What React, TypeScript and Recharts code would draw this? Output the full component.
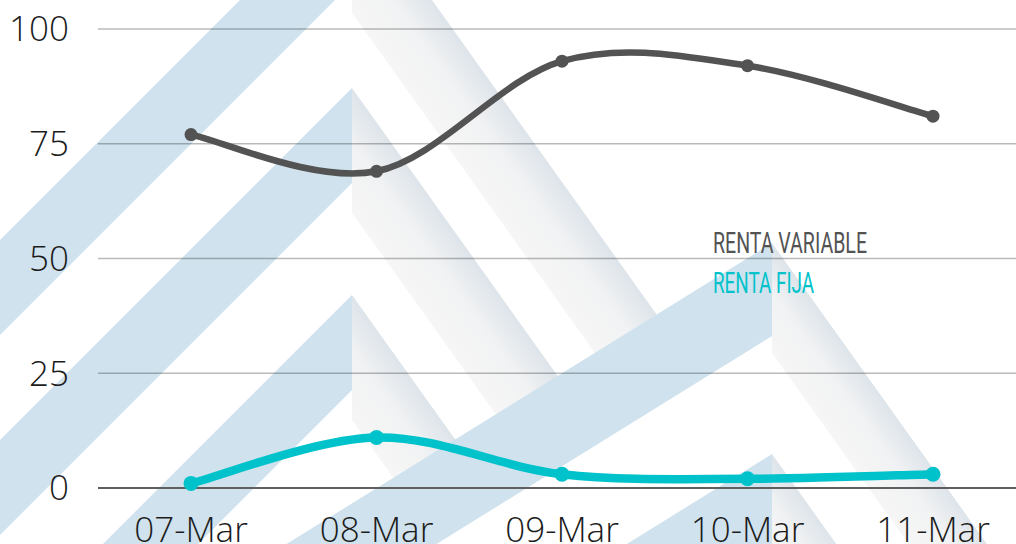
import { LineChart, Line, CartesianGrid, XAxis, YAxis, Legend } from 'recharts';

const dates = ['07-Mar', '08-Mar', '09-Mar', '10-Mar', '11-Mar'];
const rentaVariable = [77, 69, 93, 92, 81];
const rentaFija = [1, 11, 3, 2, 3];
const yTicks = [0, 25, 50, 75, 100];
const seriesNames = ['RENTA VARIABLE', 'RENTA FIJA'];

const data = dates.map((d, i) => ({ date: d, variable: rentaVariable[i], fija: rentaFija[i] }));

const DARK = '#535353';
const CYAN = '#00c2cb';
const BLUE = '#cfe2ed';

// Excel-like smoothing (Catmull-Rom), used as a d3 curve factory
const smoothCurve = (context: any) => {
  let xs: number[] = [];
  let ys: number[] = [];
  return {
    areaStart() {},
    areaEnd() {},
    lineStart() {
      xs = [];
      ys = [];
    },
    lineEnd() {
      const n = xs.length;
      if (!n) return;
      context.moveTo(xs[0], ys[0]);
      for (let i = 0; i < n - 1; i++) {
        const a = i > 0 ? i - 1 : i;
        const b = i + 2 < n ? i + 2 : i + 1;
        context.bezierCurveTo(
          xs[i] + (xs[i + 1] - xs[a]) / 6,
          ys[i] + (ys[i + 1] - ys[a]) / 6,
          xs[i + 1] - (xs[b] - xs[i]) / 6,
          ys[i + 1] - (ys[b] - ys[i]) / 6,
          xs[i + 1],
          ys[i + 1]
        );
      }
    },
    point(x: number, y: number) {
      xs.push(+x);
      ys.push(+y);
    },
  };
};

// watermark logo: stacked chevrons, blue left arm + grey right arm
const leftGroup = { x: 352, t: 95, tr: 125, slope: 1.0, apex: [-112, 88, 295], ends: [665, 570, 465] };
const rightGroup = { x: 772, t: 93, tr: 110, slope: 0.62, apex: [243, 454], ends: [1200, 1200] };
const ARM_SLOPE = 1.4;

const pts = (p: number[][]) => p.map((q) => q.join(',')).join(' ');

type ChevronProps = { ax: number; ay: number; t: number; tr: number; slope: number; xEnd: number; id: string };

const Chevron = ({ ax, ay, t, tr, slope, xEnd, id }: ChevronProps) => {
  const len = 600;
  const left = [[ax, ay], [ax - len, ay + len * slope], [ax - len, ay + len * slope + t], [ax, ay + t]];
  const s = ARM_SLOPE;
  const k = tr / (1 + s * s);
  const oy = ay + (xEnd - ax) * s;
  const right = [[ax, ay], [xEnd, oy], [xEnd - s * k, oy + k], [ax, ay + tr]];
  return (
    <g>
      <defs>
        <linearGradient id={id} gradientUnits="userSpaceOnUse" x1={ax} y1={ay + tr} x2={ax + s * k} y2={ay + tr - k}>
          <stop offset="0" stopColor="#f6f6f6" />
          <stop offset="0.55" stopColor="#f1f2f3" />
          <stop offset="1" stopColor="#dde4ea" />
        </linearGradient>
      </defs>
      <polygon points={pts(left)} fill={BLUE} />
      <polygon points={pts(right)} fill={`url(#${id})`} />
    </g>
  );
};

const Watermark = () => (
  <svg width={1016} height={544} style={{ position: 'absolute', left: 0, top: 0 }}>
    {leftGroup.apex.map((ay, i) => (
      <Chevron key={'l' + i} id={'gl' + i} ax={leftGroup.x} ay={ay} t={leftGroup.t} tr={leftGroup.tr} slope={leftGroup.slope} xEnd={leftGroup.ends[i]} />
    ))}
    {rightGroup.apex.map((ay, i) => (
      <Chevron key={'r' + i} id={'gr' + i} ax={rightGroup.x} ay={ay} t={rightGroup.t} tr={rightGroup.tr} slope={rightGroup.slope} xEnd={rightGroup.ends[i]} />
    ))}
  </svg>
);

const legendWidths: Record<string, number> = { 'RENTA VARIABLE': 154, 'RENTA FIJA': 101 };

const renderLegend = (props: any) => {
  const items = [...(props.payload || [])].sort(
    (p: any, q: any) => seriesNames.indexOf(p.value) - seriesNames.indexOf(q.value)
  );
  return (
    <svg width={220} height={75}>
      {items.map((it: any, i: number) => (
        <text
          key={it.value}
          x={0}
          y={25 + i * 40}
          fill={it.color}
          fontSize={29}
          fontFamily="'Roboto', sans-serif"
          textLength={legendWidths[it.value]}
          lengthAdjust="spacingAndGlyphs"
        >
          {it.value}
        </text>
      ))}
    </svg>
  );
};

const tickStyle = { fontSize: 35, fill: '#1c1c1c', fontFamily: "'Open Sans', sans-serif", fontWeight: 300 };

export default function App() {
  return (
    <div style={{ position: 'absolute', left: 0, top: 0, width: 1016, height: 544, overflow: 'hidden', background: '#fff' }}>
      <Watermark />
      <div style={{ position: 'absolute', left: 0, top: 0 }}>
        <LineChart width={1030} height={544} data={data} margin={{ top: 29, right: 4, bottom: 0, left: 0 }}>
          <CartesianGrid horizontal vertical={false} stroke="#000" strokeOpacity={0.27} strokeWidth={1.4} />
          <XAxis
            dataKey="date"
            height={56}
            padding={{ left: 93, right: 93 }}
            tickLine={false}
            tickSize={0}
            tickMargin={29}
            axisLine={{ stroke: '#5f5f5f', strokeWidth: 2 }}
            tick={tickStyle}
            interval={0}
          />
          <YAxis
            width={98}
            domain={[0, 100]}
            ticks={yTicks}
            axisLine={false}
            tickLine={false}
            tickSize={0}
            tickMargin={29}
            tick={tickStyle}
          />
          <Legend
            layout="horizontal"
            verticalAlign="middle"
            align="center"
            content={renderLegend}
            wrapperStyle={{ left: 713, top: 228, width: 220, height: 75 }}
          />
          <Line
            name={seriesNames[0]}
            type={smoothCurve as any}
            dataKey="variable"
            stroke={DARK}
            strokeWidth={6.5}
            dot={{ r: 6.5, fill: DARK, stroke: DARK, strokeWidth: 0 }}
            activeDot={false}
            isAnimationActive={false}
          />
          <Line
            name={seriesNames[1]}
            type={smoothCurve as any}
            dataKey="fija"
            stroke={CYAN}
            strokeWidth={8.5}
            dot={{ r: 7.5, fill: CYAN, stroke: CYAN, strokeWidth: 0 }}
            activeDot={false}
            isAnimationActive={false}
          />
        </LineChart>
      </div>
    </div>
  );
}
